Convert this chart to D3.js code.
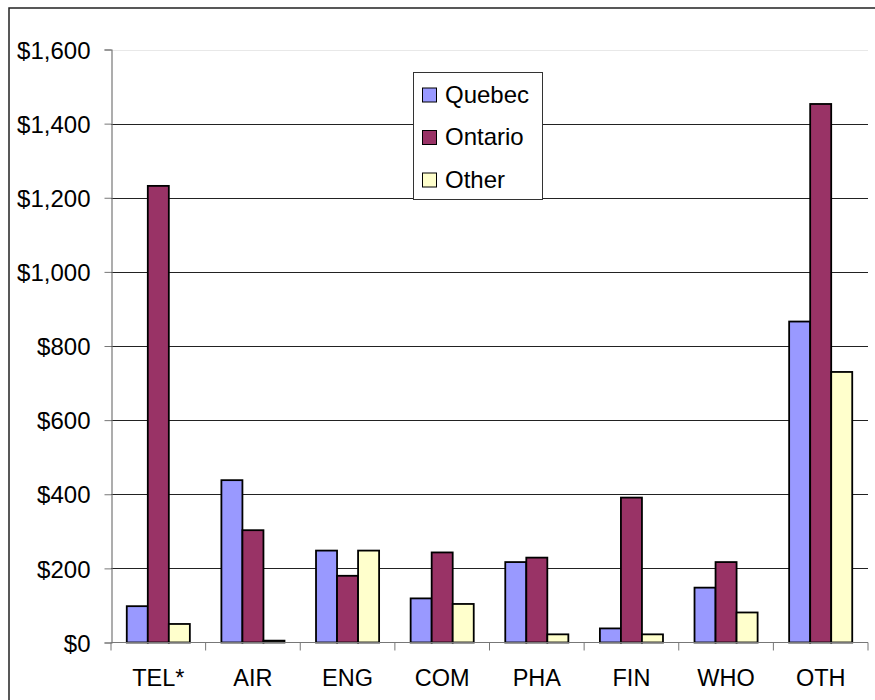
<!DOCTYPE html>
<html>
<head>
<meta charset="utf-8">
<script src="https://cdn.jsdelivr.net/npm/d3@7"></script>
<style>
  body { margin: 0; background: #fff; }
  svg { display: block; font-family: "Liberation Sans", Arial, sans-serif; }
</style>
</head>
<body>
<div id="chart"></div>
<script>
// categories and series values
var categories = ["TEL*", "AIR", "ENG", "COM", "PHA", "FIN", "WHO", "OTH"];
var seriesNames = ["Quebec", "Ontario", "Other"];
var quebec  = [98, 438, 248, 119, 217, 38, 148, 866];
var ontario = [1232, 303, 180, 243, 229, 391, 217, 1453];
var other   = [50, 5, 248, 104, 22, 22, 81, 730];
var yTicks = [0, 200, 400, 600, 800, 1000, 1200, 1400, 1600];

var colors = ["#9999ff", "#993366", "#ffffcc"];

var width = 875, height = 700;
var margin = {top: 49.5, right: 7, bottom: 57.5, left: 111};

var svg = d3.select("#chart")
  .append("svg")
    .attr("width", width)
    .attr("height", height);

// outer chart border (extends past the right/bottom edges)
svg.append("rect")
  .attr("x", 9).attr("y", 8)
  .attr("width", 900).attr("height", 720)
  .attr("fill", "none")
  .attr("stroke", "#222")
  .attr("stroke-width", 1.5);

var x0 = d3.scaleBand()
  .domain(categories)
  .range([margin.left, width - margin.right])
  .paddingInner(1 / 3)
  .paddingOuter(1 / 6);

var x1 = d3.scaleBand()
  .domain(seriesNames)
  .range([0, x0.bandwidth()]);

var y = d3.scaleLinear()
  .domain([0, 1600])
  .range([height - margin.bottom, margin.top]);

// gridlines
svg.append("g")
  .selectAll("line")
  .data(yTicks.filter(function(d) { return d > 0; }))
  .enter()
  .append("line")
    .attr("x1", margin.left)
    .attr("x2", width - margin.right)
    .attr("y1", function(d) { return Math.round(y(d)) + 0.5; })
    .attr("y2", function(d) { return Math.round(y(d)) + 0.5; })
    .attr("stroke", function(d) { return d === 1600 ? "#e8e8e8" : "#222"; })
    .attr("stroke-width", 1);

// bars
var table = categories.map(function(c, i) {
  return {cat: c, values: [quebec[i], ontario[i], other[i]]};
});

svg.append("g")
  .selectAll("g")
  .data(table)
  .enter()
  .append("g")
    .attr("transform", function(d) { return "translate(" + x0(d.cat) + ",0)"; })
  .selectAll("rect")
  .data(function(d) {
    return d.values.map(function(v, j) { return {name: seriesNames[j], value: v, j: j}; });
  })
  .enter()
  .append("rect")
    .attr("x", function(d) { return x1(d.name); })
    .attr("y", function(d) { return y(d.value); })
    .attr("width", x1.bandwidth())
    .attr("height", function(d) { return y(0) - y(d.value); })
    .attr("fill", function(d) { return colors[d.j]; })
    .attr("stroke", "#000")
    .attr("stroke-width", 1.8);

// y axis
var yAxis = svg.append("g")
  .attr("transform", "translate(" + (margin.left + 0.5) + ",0)")
  .call(d3.axisLeft(y)
    .tickValues(yTicks)
    .tickSize(7)
    .tickPadding(14)
    .tickFormat(function(d) { return "$" + d3.format(",")(d); }));

yAxis.select(".domain").attr("stroke", "#777").attr("stroke-width", 1.2);
yAxis.selectAll(".tick line").attr("stroke", "#777");
yAxis.selectAll("text")
  .attr("font-size", "24px")
  .attr("font-family", "Liberation Sans, Arial, sans-serif")
  .attr("fill", "#000")
  .attr("dy", "0.36em");

// x axis: ticks between categories
var xAxisG = svg.append("g");
xAxisG.append("line")
  .attr("x1", margin.left)
  .attr("x2", width - margin.right)
  .attr("y1", y(0))
  .attr("y2", y(0))
  .attr("stroke", "#777")
  .attr("stroke-width", 1.2);

var step = x0.step();
xAxisG.selectAll(".xtick")
  .data(d3.range(categories.length + 1))
  .enter()
  .append("line")
    .attr("class", "xtick")
    .attr("x1", function(i) { return margin.left + i * step; })
    .attr("x2", function(i) { return margin.left + i * step; })
    .attr("y1", y(0))
    .attr("y2", y(0) + 8)
    .attr("stroke", "#777");

xAxisG.selectAll(".xlabel")
  .data(categories)
  .enter()
  .append("text")
    .attr("class", "xlabel")
    .attr("x", function(d) { return x0(d) + x0.bandwidth() / 2; })
    .attr("y", 686)
    .attr("text-anchor", "middle")
    .attr("font-size", "23.5px")
    .text(function(d) { return d; });

// legend
var legend = svg.append("g").attr("transform", "translate(413,72)");
legend.append("rect")
  .attr("x", 0.5).attr("y", 0.5)
  .attr("width", 129).attr("height", 127)
  .attr("fill", "#fff")
  .attr("stroke", "#333")
  .attr("stroke-width", 1);

var items = legend.selectAll(".item")
  .data(seriesNames)
  .enter()
  .append("g")
    .attr("class", "item")
    .attr("transform", function(d, i) { return "translate(0," + (23 + i * 42.5) + ")"; });

items.append("rect")
  .attr("x", 9.5).attr("y", -7)
  .attr("width", 14).attr("height", 14)
  .attr("fill", function(d, i) { return colors[i]; })
  .attr("stroke", "#000")
  .attr("stroke-width", 1);

items.append("text")
  .attr("x", 32)
  .attr("y", -1)
  .attr("dy", "0.36em")
  .attr("font-size", "24px")
  .text(function(d) { return d; });
</script>
</body>
</html>
